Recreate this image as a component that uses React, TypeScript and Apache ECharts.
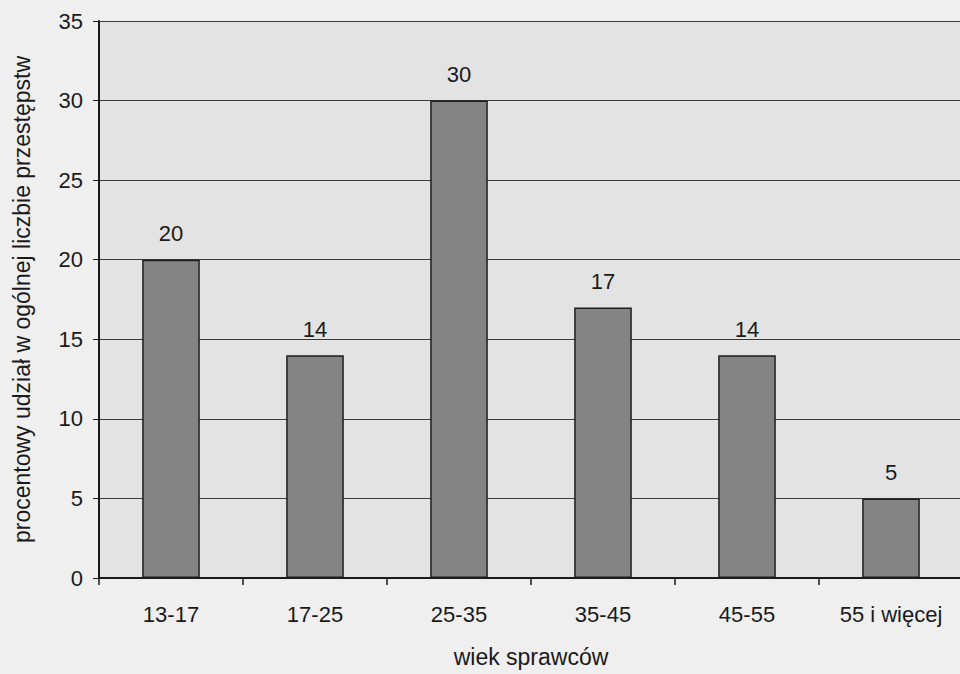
import React, { useEffect, useRef } from "react";
import * as echarts from "echarts";

const categories = ["13-17", "17-25", "25-35", "35-45", "45-55", "55 i więcej"];
const values = [20, 14, 30, 17, 14, 5];
const yTicks = { min: 0, max: 35, interval: 5 };
const xName = "wiek sprawców";
const yName = "procentowy udział w ogólnej liczbie przestępstw";

export default function App() {
  const ref = useRef<HTMLDivElement>(null);
  useEffect(() => {
    const chart = echarts.init(ref.current!, null, { renderer: "svg" });
    const font = "Liberation Sans, Arial, sans-serif";
    chart.setOption({
      animation: false,
      backgroundColor: "#efefef",
      grid: {
        left: 99,
        top: 21,
        width: 864,
        height: 557,
        outerBoundsMode: "none",
        containLabel: false,
        show: true,
        backgroundColor: "#e3e3e3",
        borderWidth: 0,
      },
      xAxis: {
        type: "category",
        data: categories,
        name: xName,
        nameLocation: "middle",
        nameGap: 67,
        nameTextStyle: { fontFamily: font, fontSize: 23, color: "#1a1a1a" },
        axisLine: { lineStyle: { color: "#1a1a1a", width: 2 } },
        axisTick: { show: true, length: 7, lineStyle: { color: "#1a1a1a", width: 1.5 } },
        axisLabel: { fontFamily: font, fontSize: 22, color: "#1a1a1a", margin: 25 },
        splitLine: { show: false },
      },
      yAxis: {
        type: "value",
        min: yTicks.min,
        max: yTicks.max,
        interval: yTicks.interval,
        name: yName,
        nameLocation: "middle",
        nameGap: 66,
        nameTextStyle: { fontFamily: font, fontSize: 23, color: "#1a1a1a" },
        axisLine: { show: true, lineStyle: { color: "#1a1a1a", width: 2 } },
        axisTick: { show: true, length: 6, lineStyle: { color: "#1a1a1a", width: 1 } },
        axisLabel: { fontFamily: font, fontSize: 22, color: "#1a1a1a", margin: 16 },
        splitLine: { show: true, lineStyle: { color: "#3a3a3a", width: 1.2 } },
      },
      series: [
        {
          type: "bar",
          data: values,
          barWidth: "40%",
          itemStyle: { color: "#848484", borderColor: "#1e1e1e", borderWidth: 1.5 },
          label: {
            show: true,
            position: "top",
            distance: 15,
            fontFamily: font,
            fontSize: 22,
            color: "#1a1a1a",
          },
        },
      ],
    });
    return () => {
      chart.dispose();
    };
  }, []);
  return (
    <div
      style={{
        position: "fixed",
        left: 0,
        top: 0,
        width: 960,
        height: 674,
        overflow: "hidden",
      }}
    >
      <div ref={ref} style={{ width: 960, height: 674 }} />
    </div>
  );
}
